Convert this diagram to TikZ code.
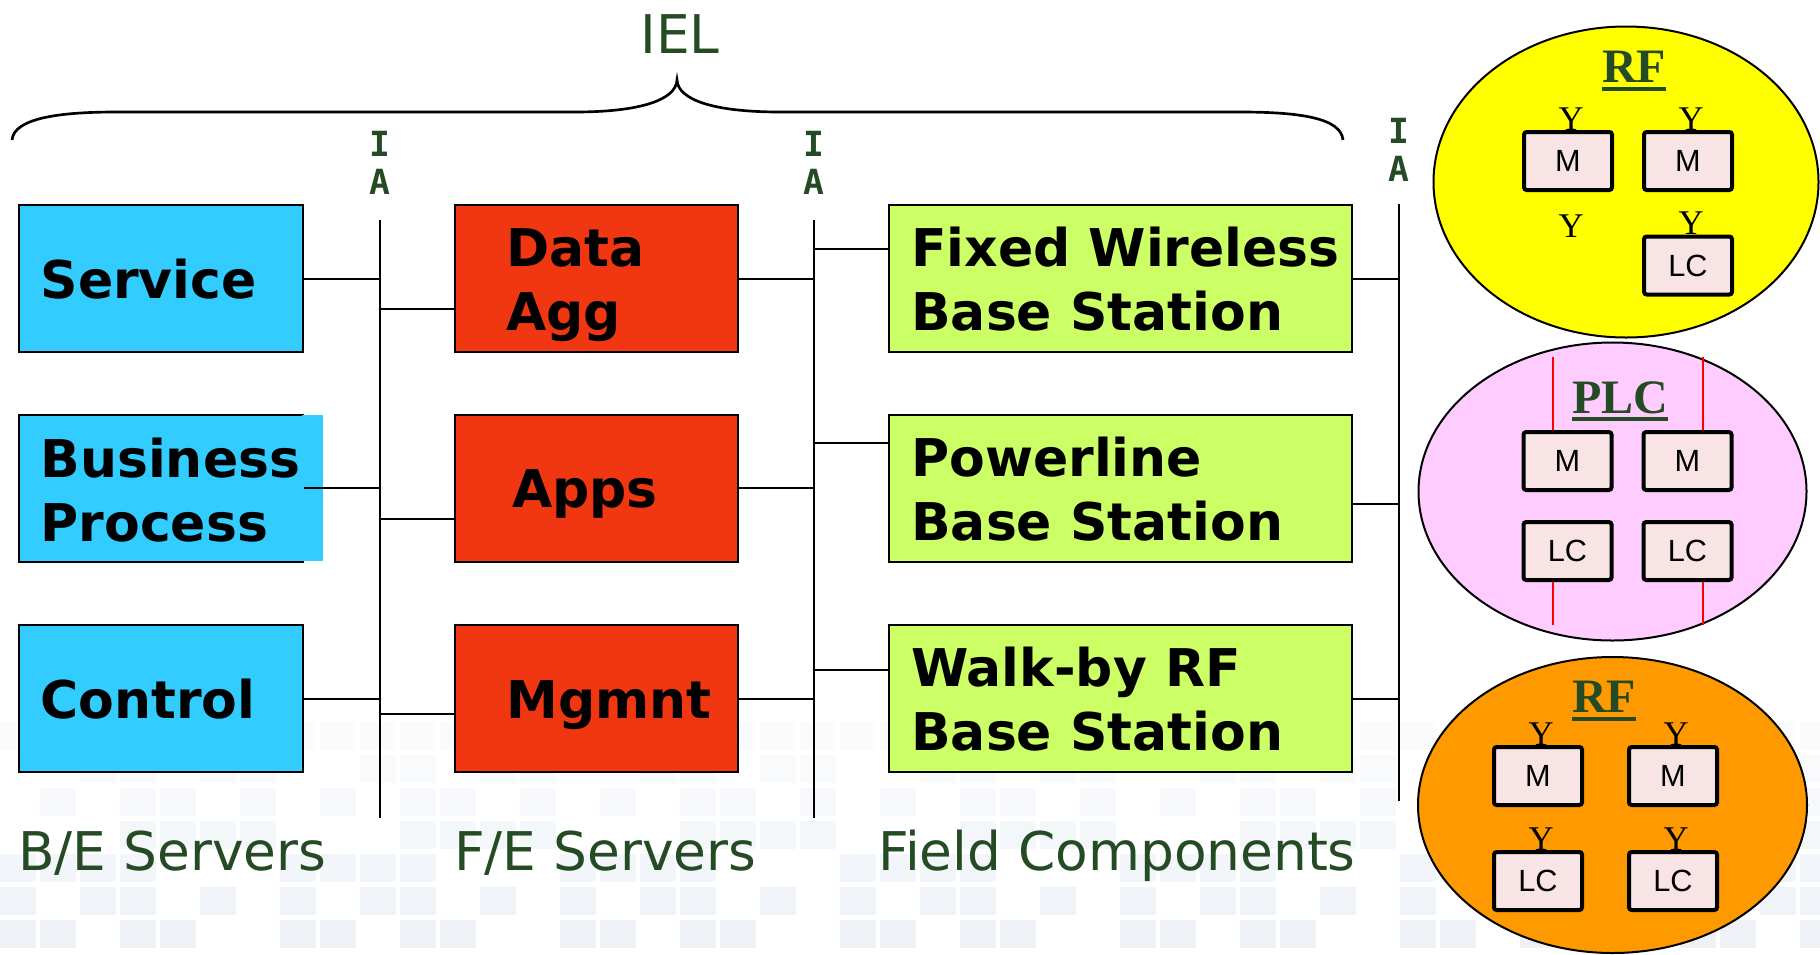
\documentclass[tikz,border=0pt]{standalone}
\usepackage{fontspec}
\usetikzlibrary{positioning,calc,shapes.geometric}
\newfontfamily\vfont{DejaVu Sans}
\newfontfamily\vmono{DejaVu Sans Mono}
\newfontfamily\tfont{Liberation Serif}
\newfontfamily\afont{Liberation Sans}
\definecolor{beblue}{RGB}{51,204,255}
\definecolor{fered}{RGB}{240,55,17}
\definecolor{fcgreen}{RGB}{204,255,102}
\definecolor{dkgreen}{RGB}{36,75,36}
\definecolor{rfyellow}{RGB}{255,255,0}
\definecolor{plcpink}{RGB}{255,204,255}
\definecolor{rforange}{RGB}{255,153,0}
\definecolor{devpink}{RGB}{248,228,228}
\definecolor{bgtile}{RGB}{214,225,236}
\tikzset{
  wire/.style={line width=1.5pt},
  tierbox/.style={draw, line width=1.5pt, minimum height=110.25pt, inner sep=0pt},
  bebox/.style={tierbox, fill=beblue, minimum width=213pt},
  febox/.style={tierbox, fill=fered, minimum width=212.25pt},
  fcbox/.style={tierbox, fill=fcgreen, minimum width=347.25pt},
  boxtxt/.style={anchor=base west, inner sep=0pt, align=left, font=\vfont\bfseries\fontsize{39}{48}\selectfont},
  tierlbl/.style={anchor=base west, inner sep=0pt, text=dkgreen, font=\vfont\fontsize{40}{48}\selectfont},
  ialbl/.style={inner sep=0pt, align=center, text=dkgreen, font=\vmono\bfseries\fontsize{26}{29}\selectfont},
  brace/.style={line width=2pt},
  zone/.style={ellipse, draw, line width=1.5pt, inner sep=0pt},
  dev/.style={draw, line width=3pt, rounded corners=2pt, fill=devpink, minimum width=66pt, minimum height=43.5pt, inner sep=0pt, font=\afont\fontsize{23}{23}\selectfont},
  ant/.style={anchor=base, inner sep=0pt, font=\tfont\fontsize{26}{26}\selectfont},
  zonelbl/.style={anchor=base, inner sep=0pt, text=dkgreen, font=\tfont\bfseries\fontsize{36}{36}\selectfont},
  ulbar/.style={draw=dkgreen, line width=3pt},
  plcwire/.style={draw=red, line width=2pt}
}
\begin{document}
\begin{tikzpicture}[x=0.75pt,y=0.75pt,yscale=-1,xscale=1]
\useasboundingbox (0,0) rectangle (1820,954);

% faint tiles behind the bottom strip
\foreach \i in {0,...,45}{
  \foreach \j in {0,...,6}{
    \pgfmathtruncatemacro{\k}{mod(\i*\i*7+\j*13+\i*\j*5,7)}
    \pgfmathsetmacro{\op}{0.12+0.05*\j}
    \ifnum\k<4
      \fill[bgtile,opacity=\op] (\i*40,722+\j*33) rectangle ++(36,28);
    \fi
  }
}

% tier boxes
\node[bebox] (svc) at (161.3,278.5) {};
\node[bebox] (bp) at (161.3,488) {};
\node[bebox] (ctl) at (161.3,698.5) {};
\node[febox] (agg) at (596.5,278.5) {};
\node[febox] (apps) at (596.5,488) {};
\node[febox] (mg) at (596.5,698.5) {};
\node[fcbox] (fw) at (1120.5,278.5) {};
\node[fcbox] (pl) at (1120.5,488) {};
\node[fcbox] (wb) at (1120.5,698.5) {};
\fill[beblue] ($(bp.north east)+(-2,1.5)$) rectangle ($(bp.south east)+(19,-1.5)$);

\node[boxtxt] (svcT) at ($(svc.west)+(22,19.5)$) {Service};
\node[boxtxt] (bpT) at ($(bp.west)+(22,53)$) {Business\\Process};
\node[boxtxt] (ctlT) at ($(ctl.west)+(22,19.5)$) {Control};
\node[boxtxt] (aggT) at ($(agg.west)+(52,52)$) {Data\\Agg};
\node[boxtxt] (appsT) at ($(apps.west)+(58,19.5)$) {Apps};
\node[boxtxt] (mgT) at ($(mg.west)+(52,19.5)$) {Mgmnt};
\node[boxtxt] (fwT) at ($(fw.west)+(23,52)$) {Fixed Wireless\\Base Station};
\node[boxtxt] (plT) at ($(pl.west)+(23,52)$) {Powerline\\Base Station};
\node[boxtxt] (wbT) at ($(wb.west)+(23,52)$) {Walk-by RF\\Base Station};

% interface buses
\coordinate (busA) at (380,220); \coordinate (busAe) at (380,818);
\coordinate (busB) at (814,220); \coordinate (busBe) at (814,818);
\coordinate (busC) at (1399,204); \coordinate (busCe) at (1399,801);
\draw[wire] (busA) -- (busAe);
\draw[wire] (busB) -- (busBe);
\draw[wire] (busC) -- (busCe);

\coordinate (aggIn) at ($(agg.west)+(0,30)$);
\coordinate (appsIn) at ($(apps.west)+(0,31)$);
\coordinate (mgIn) at ($(mg.west)+(0,15)$);
\coordinate (fwIn) at ($(fw.west)+(0,-30)$);
\coordinate (plIn) at ($(pl.west)+(0,-45)$);
\coordinate (wbIn) at ($(wb.west)+(0,-29)$);
\coordinate (plOut) at ($(pl.east)+(0,16)$);

\draw[wire] (svc.east) -- (svc.east -| busA);
\draw[wire] (bp.east) -- (bp.east -| busA);
\draw[wire] (ctl.east) -- (ctl.east -| busA);
\draw[wire] (aggIn -| busA) -- (aggIn);
\draw[wire] (appsIn -| busA) -- (appsIn);
\draw[wire] (mgIn -| busA) -- (mgIn);
\draw[wire] (agg.east) -- (agg.east -| busB);
\draw[wire] (apps.east) -- (apps.east -| busB);
\draw[wire] (mg.east) -- (mg.east -| busB);
\draw[wire] (fwIn -| busB) -- (fwIn);
\draw[wire] (plIn -| busB) -- (plIn);
\draw[wire] (wbIn -| busB) -- (wbIn);
\draw[wire] (fw.east) -- (fw.east -| busC);
\draw[wire] (plOut) -- (plOut -| busC);
\draw[wire] (wb.east) -- (wb.east -| busC);

\node[ialbl] (iaA) at (380,163) {I\\A};
\node[ialbl] (iaB) at (814,163) {I\\A};
\node[ialbl] (iaC) at (1399,150) {I\\A};

% IEL brace
\draw[brace] (12,140) .. controls (14,118) and (60,112) .. (116,112) -- (575,112) .. controls (640,112) and (676,100) .. (677,80) .. controls (678,100) and (714,112) .. (780,112) -- (1240,112) .. controls (1300,112) and (1341,118) .. (1343,140);
\node[tierlbl, anchor=base] (iel) at (680,53) {IEL};

\node[tierlbl] (beL) at (18,870) {B/E Servers};
\node[tierlbl] (feL) at (454,870) {F/E Servers};
\node[tierlbl] (fcL) at (878,870) {Field Components};

% RF zone
\node[zone, fill=rfyellow, minimum width=288.75pt, minimum height=233.25pt] (rfA) at (1626,182) {};
\node[zonelbl] (rfAL) at (1634,82) {RF};
\draw[ulbar] ($(rfAL.base west)+(0,7)$) -- ($(rfAL.base east)+(0,7)$);
\node[dev] (ym1) at (1568,161) {M};
\node[dev] (ym2) at (1688,161) {M};
\node[dev] (ylc) at (1688,265.5) {LC};
\node[ant] (yy1) at ($(ym1.north)+(3,0)$) {Y};
\node[ant] (yy2) at ($(ym2.north)+(3,0)$) {Y};
\node[ant] (yy3) at (1571,237) {Y};
\node[ant] (yy4) at ($(ylc.north)+(3,0)$) {Y};

% PLC zone
\node[zone, fill=plcpink, minimum width=291pt, minimum height=223.5pt] (plcZ) at (1612.5,491.5) {};
\node[zonelbl] (plcL) at (1620,413) {PLC};
\draw[ulbar] ($(plcL.base west)+(0,6)$) -- ($(plcL.base east)+(0,6)$);
\node[dev] (pm1) at (1567.5,461) {M};
\node[dev] (pm2) at (1687.5,461) {M};
\node[dev] (plc1) at (1567.5,551) {LC};
\node[dev] (plc2) at (1687.5,551) {LC};
\coordinate (wTL) at (1553,357); \coordinate (wTR) at (1703,357);
\coordinate (wBL) at (1553,625); \coordinate (wBR) at (1703,625);
\draw[plcwire] (wTL) -- (wTL |- pm1.north);
\draw[plcwire] (wTR) -- (wTR |- pm2.north);
\draw[plcwire] (wBL) -- (wBL |- plc1.south);
\draw[plcwire] (wBR) -- (wBR |- plc2.south);

% RF zone, lower
\node[zone, fill=rforange, minimum width=291.75pt, minimum height=222pt] (rfB) at (1612.5,805) {};
\node[zonelbl] (rfBL) at (1604,712) {RF};
\draw[ulbar] ($(rfBL.base west)+(0,7)$) -- ($(rfBL.base east)+(0,7)$);
\node[dev] (om1) at (1538,776) {M};
\node[dev] (om2) at (1673,776) {M};
\node[dev] (olc1) at (1538,881) {LC};
\node[dev] (olc2) at (1673,881) {LC};
\node[ant] (oy1) at ($(om1.north)+(3,0)$) {Y};
\node[ant] (oy2) at ($(om2.north)+(3,0)$) {Y};
\node[ant] (oy3) at ($(olc1.north)+(3,0)$) {Y};
\node[ant] (oy4) at ($(olc2.north)+(3,0)$) {Y};

\end{tikzpicture}
\end{document}
